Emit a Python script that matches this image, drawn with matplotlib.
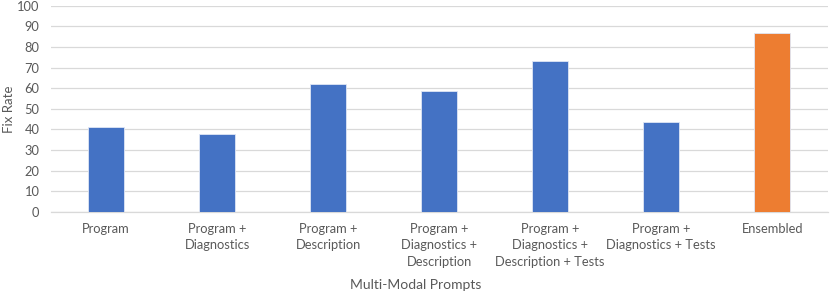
import matplotlib.pyplot as plt
import numpy as np

# --------- chart data ----------
categories = [
    "Program",
    "Program +\nDiagnostics",
    "Program +\nDescription",
    "Program +\nDiagnostics +\nDescription",
    "Program +\nDiagnostics +\nDescription + Tests",
    "Program +\nDiagnostics + Tests",
    "Ensembled",
]
fix_rate = [41.3, 37.7, 62.1, 58.7, 73.0, 43.4, 86.7]
bar_colors = ["#4472C4"] * 6 + ["#ED7D31"]

plt.rcParams["font.family"] = ["Lato", "DejaVu Sans"]

fig = plt.figure(figsize=(8.31, 2.93), dpi=100)
ax = fig.add_axes([0.061, 0.277, 0.935, 0.703])

x = np.arange(len(categories))
ax.bar(x, fix_rate, width=0.32, color=bar_colors, edgecolor="#dfe6f5",
       linewidth=0.6, zorder=3)

ax.set_xlim(-0.5, len(categories) - 0.5)
ax.set_ylim(0, 100)
ax.set_yticks(np.arange(0, 101, 10))
ax.set_xticks(x)
ax.set_xticklabels(categories, fontsize=9.3, color="#595959", linespacing=1.45)
ax.tick_params(axis="y", labelsize=9.3, labelcolor="#595959", length=0, pad=8)
ax.tick_params(axis="x", length=0, pad=8)

ax.grid(axis="y", color="#d9d9d9", linewidth=0.9, zorder=0)
for side in ["top", "right", "left"]:
    ax.spines[side].set_visible(False)
ax.spines["bottom"].set_color("#d9d9d9")
ax.spines["bottom"].set_linewidth(0.9)

# axis titles placed in figure coords so they stay inside the canvas
fig.text(0.004, 0.628, "Fix Rate", rotation=90, ha="left", va="center",
         fontsize=9.5, color="#595959")
fig.text(0.5, 0.012, "Multi-Modal Prompts", ha="center", fontsize=10,
         color="#595959")

fig.savefig("out.png", dpi=100)
